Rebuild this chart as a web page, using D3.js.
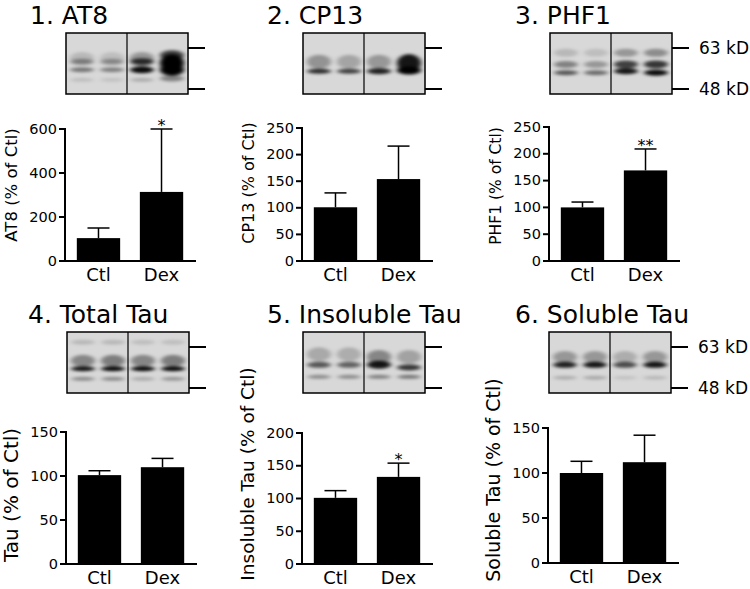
<!DOCTYPE html>
<html>
<head>
<meta charset="utf-8">
<script src="https://cdn.jsdelivr.net/npm/d3@7"></script>
<style>
  body { margin: 0; background: #fff; }
  svg { display: block; font-family: "DejaVu Sans", sans-serif; }
  .axis path, .axis line { stroke: #000; stroke-width: 2; stroke-linecap: square; }
  .axis text { font-size: 14.5px; fill: #000; font-family: "DejaVu Sans", sans-serif; }
  .xaxis text { font-size: 18px; }
  .title { font-size: 25px; }
  .ytitle { text-anchor: middle; }
  .marker-text { font-size: 17px; }
  .sig { font-size: 16px; text-anchor: middle; }
</style>
</head>
<body>
<svg id="chart" width="750" height="589"></svg>
<script>
// ---- data ----
const groups = ["Ctl", "Dex"];
const titles = ["1. AT8", "2. CP13", "3. PHF1", "4. Total Tau", "5. Insoluble Tau", "6. Soluble Tau"];
const yTitles = ["AT8 (% of Ctl)", "CP13 (% of Ctl)", "PHF1 (% of Ctl)",
                 "Tau (% of Ctl)", "Insoluble Tau (% of Ctl)", "Soluble Tau (% of Ctl)"];
const meanValues = [[104, 314], [101, 154], [100, 169], [101, 110], [101, 133], [100, 112]];
const errValues = [[46, 286], [27, 62], [10, 40], [5, 10], [11, 21], [13, 30]];
const yMaxes = [600, 250, 250, 150, 200, 150];
const yTickValues = [[0, 200, 400, 600], [0, 50, 100, 150, 200, 250], [0, 50, 100, 150, 200, 250],
                     [0, 50, 100, 150], [0, 50, 100, 150, 200], [0, 50, 100, 150]];
const sigMarks = [["", "*"], ["", ""], ["", "**"], ["", ""], ["", "*"], ["", ""]];
const markerKD = [63, 48];
const lanes = [1, 2, 3, 4];

// blot bands: [lane, kD, spread, darkness]
const blotAT8 = [
  [1, 59, 6, 0.15], [1, 57.5, 3, 0.35], [1, 54.5, 2.5, 0.45], [1, 51, 2, 0.12],
  [2, 59, 6, 0.12], [2, 57.5, 3, 0.3], [2, 54.5, 2.5, 0.4], [2, 51, 2, 0.1],
  [3, 59, 6, 0.3], [3, 57.5, 3.5, 0.75], [3, 54.5, 3.5, 0.95], [3, 51, 2, 0.2],
  [4, 57, 9, 1], [4, 54.5, 6, 1], [4, 60, 5, 0.7], [4, 51.5, 3, 0.4]
];
const blotCP13 = [
  [1, 54, 2.5, 0.8], [1, 57.5, 7, 0.32],
  [2, 54, 2.5, 0.7], [2, 57.5, 7, 0.24],
  [3, 54, 3, 0.85], [3, 57.5, 7, 0.3],
  [4, 54.3, 4, 1], [4, 57, 9, 0.9]
];
const blotPHF1 = [
  [1, 61, 4, 0.15], [1, 56.5, 3.5, 0.4], [1, 53.5, 2.5, 0.6],
  [2, 61, 4, 0.12], [2, 56.5, 3.5, 0.3], [2, 53.5, 2.5, 0.5],
  [3, 61, 4, 0.3], [3, 56.5, 4, 0.7], [3, 54, 3, 0.9],
  [4, 61, 4, 0.35], [4, 56.5, 4, 0.75], [4, 53.5, 3, 0.95]
];
const blotTotal = [
  [1, 65, 2.5, 0.15], [1, 57.5, 6, 0.38], [1, 54.5, 2.5, 0.9], [1, 51, 2, 0.35],
  [2, 65, 2.5, 0.15], [2, 57.5, 6, 0.42], [2, 54.5, 2.5, 0.95], [2, 51, 2, 0.35],
  [3, 65, 2.5, 0.12], [3, 57.5, 6, 0.38], [3, 54.5, 2.5, 0.95], [3, 51, 2, 0.2],
  [4, 65, 2.5, 0.12], [4, 57.5, 6, 0.42], [4, 54.5, 2.5, 0.95], [4, 51, 2, 0.3]
];
const blotInsol = [
  [1, 60, 7, 0.22], [1, 56, 3, 0.6], [1, 51.7, 2, 0.35],
  [2, 60, 7, 0.2], [2, 56, 3, 0.55], [2, 51.7, 2, 0.35],
  [3, 59, 7, 0.38], [3, 56, 4, 0.9], [3, 51.7, 2, 0.4],
  [4, 59, 7, 0.25], [4, 55, 3, 0.75], [4, 51.7, 2, 0.45]
];
const blotSol = [
  [1, 59, 6, 0.3], [1, 56, 3, 0.85], [1, 51.4, 2, 0.2],
  [2, 59, 6, 0.3], [2, 56, 3, 0.9], [2, 51.4, 2, 0.22],
  [3, 59, 6, 0.2], [3, 56, 3, 0.65], [3, 51.4, 2, 0.1],
  [4, 59, 6, 0.3], [4, 56, 3, 0.9], [4, 51.4, 2, 0.15]
];
const blots = [blotAT8, blotCP13, blotPHF1, blotTotal, blotInsol, blotSol];

// ---- layout ----
const axisX = [65, 302, 549, 66, 302, 548];
const plotTop = [129, 128, 127, 432, 433, 428];
const plotBottom = [261, 261, 261, 564, 564, 563];
const titleX = [30, 267, 515, 28, 267, 515];
const rowTitleY = [24, 323];
const rowBlotY = [33, 332];
const yTitleSize = [16.5, 16, 15.5, 20, 18.5, 19];
const yTitleMid = [185, 183, 186, 495, 474, 480];
const showMarkerText = [false, false, true, false, false, true];
const plotWidth = 130, blotW = 122, blotH = 61;

const svg = d3.select("#chart");
const defs = svg.append("defs");
defs.append("filter").attr("id", "blur")
    .attr("x", "-50%").attr("y", "-50%").attr("width", "200%").attr("height", "200%")
  .append("feGaussianBlur").attr("stdDeviation", "2.4 1.5");

const laneX = d3.scalePoint().domain(lanes).range([16, 106]);
const migration = d3.scaleLog().domain([63, 48]).range([15, 56]);

titles.forEach((title, i) => {
    const row = i < 3 ? 0 : 1;
    const x0 = axisX[i];

    // title
    svg.append("text").attr("class", "title")
        .attr("x", titleX[i]).attr("y", rowTitleY[row]).text(title);

    // blot
    const blot = svg.append("g").attr("transform", "translate(" + (x0 + 1) + "," + rowBlotY[row] + ")");
    defs.append("clipPath").attr("id", "clip" + i)
      .append("rect").attr("width", blotW).attr("height", blotH);
    const inner = blot.append("g").attr("clip-path", "url(#clip" + i + ")");
    inner.append("rect").attr("width", blotW).attr("height", blotH).attr("fill", "#d8d8d8");
    inner.append("g").attr("filter", "url(#blur)")
      .selectAll("ellipse").data(blots[i]).join("ellipse")
        .attr("cx", d => laneX(d[0]))
        .attr("cy", d => migration(d[1]))
        .attr("rx", 12)
        .attr("ry", d => d[2])
        .attr("fill", "#000")
        .attr("opacity", d => d[3]);
    blot.append("rect").attr("width", blotW).attr("height", blotH)
        .attr("fill", "none").attr("stroke", "#000").attr("stroke-width", 1.5);
    blot.append("line").attr("x1", blotW / 2).attr("x2", blotW / 2)
        .attr("y1", 0).attr("y2", blotH).attr("stroke", "#000").attr("stroke-width", 1.2);
    blot.selectAll(".marker").data(markerKD).join("line")
        .attr("class", "marker")
        .attr("x1", blotW).attr("x2", blotW + 17)
        .attr("y1", d => migration(d)).attr("y2", d => migration(d))
        .attr("stroke", "#000").attr("stroke-width", 2);
    if (showMarkerText[i]) {
        blot.selectAll(".marker-text").data(markerKD).join("text")
            .attr("class", "marker-text")
            .attr("x", blotW + 27).attr("y", d => migration(d)).attr("dy", "0.35em")
            .text(d => d + " kD");
    }

    // bar chart
    const h = plotBottom[i] - plotTop[i];
    const g = svg.append("g").attr("transform", "translate(" + x0 + "," + plotTop[i] + ")");
    const x = d3.scaleBand().domain(groups).range([0, plotWidth])
        .paddingInner(20 / 64).paddingOuter(12 / 64);
    const y = d3.scaleLinear().domain([0, yMaxes[i]]).range([h, 0]);

    const rows = groups.map((grp, k) => ({grp: grp, mean: meanValues[i][k], err: errValues[i][k], sig: sigMarks[i][k]}));

    g.selectAll(".bar").data(rows).join("rect")
        .attr("class", "bar")
        .attr("x", d => x(d.grp)).attr("width", x.bandwidth())
        .attr("y", d => y(d.mean)).attr("height", d => h - y(d.mean))
        .attr("fill", "#000");

    const err = g.selectAll(".err").data(rows).join("g").attr("class", "err")
        .attr("stroke", "#000").attr("stroke-width", 1.5);
    err.append("line")
        .attr("x1", d => x(d.grp) + x.bandwidth() / 2).attr("x2", d => x(d.grp) + x.bandwidth() / 2)
        .attr("y1", d => y(d.mean)).attr("y2", d => y(d.mean + d.err));
    err.append("line")
        .attr("x1", d => x(d.grp) + x.bandwidth() / 2 - 11).attr("x2", d => x(d.grp) + x.bandwidth() / 2 + 11)
        .attr("y1", d => y(d.mean + d.err)).attr("y2", d => y(d.mean + d.err));

    g.selectAll(".sig").data(rows.filter(d => d.sig)).join("text")
        .attr("class", "sig")
        .attr("x", d => x(d.grp) + x.bandwidth() / 2)
        .attr("y", d => y(d.mean + d.err) + 2)
        .text(d => d.sig);

    g.append("g").attr("class", "axis")
        .call(d3.axisLeft(y).tickValues(yTickValues[i]).tickSize(5).tickPadding(3).tickSizeOuter(0).offset(0));
    g.append("g").attr("class", "axis xaxis").attr("transform", "translate(0," + h + ")")
        .call(d3.axisBottom(x).tickSize(0).tickPadding(7).tickSizeOuter(0).offset(0));

    svg.append("text").attr("class", "ytitle")
        .attr("transform", "translate(" + (x0 - 48) + "," + yTitleMid[i] + ") rotate(-90)")
        .style("font-size", yTitleSize[i] + "px")
        .text(yTitles[i]);
});
</script>
</body>
</html>
